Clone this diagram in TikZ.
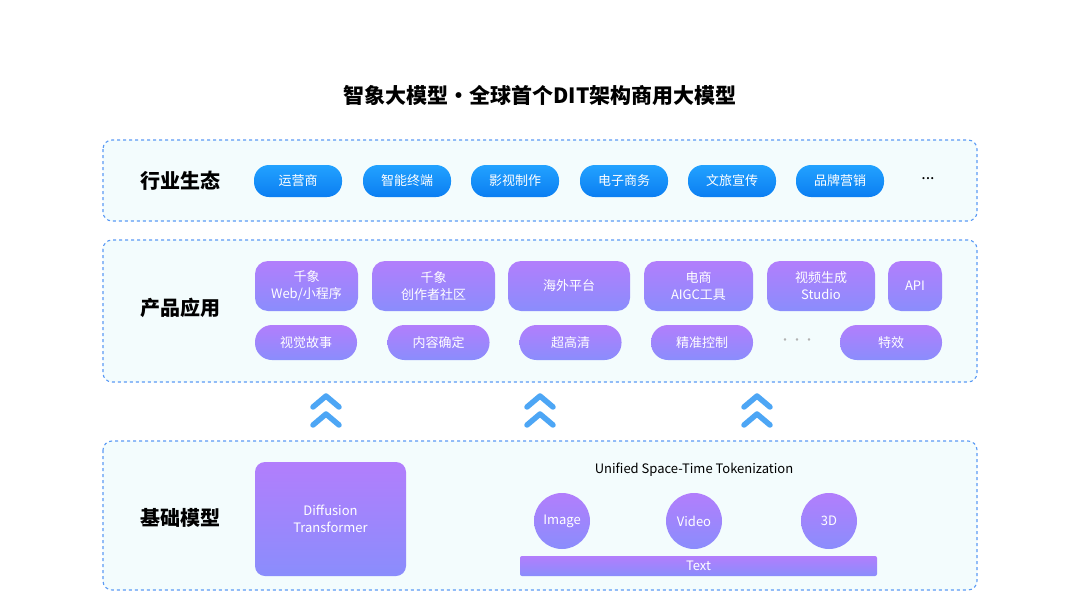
\documentclass[tikz,border=0pt]{standalone}
\usepackage{fontspec}
\setmainfont{Noto Sans CJK SC}
\usetikzlibrary{positioning,shapes.geometric}
\definecolor{layerline}{HTML}{5B9BF5}
\definecolor{layerfill}{HTML}{F3FCFD}
\definecolor{bluetop}{HTML}{22A2FF}
\definecolor{bluebot}{HTML}{0B7EF2}
\definecolor{purtop}{HTML}{B27EFC}
\definecolor{purbot}{HTML}{8A8DFC}
\definecolor{chev}{HTML}{4DA6F5}
\tikzset{
  layerbox/.style={draw=layerline, dashed, line width=1.1pt, fill=layerfill, rounded corners=9pt},
  layertitle/.style={font=\fontsize{20}{24}\selectfont\bfseries},
  blueitem/.style={rounded corners=15pt, top color=bluetop, bottom color=bluebot, draw=none,
    minimum width=88pt, minimum height=32pt, inner sep=0pt, text=white, font=\fontsize{13}{15}\selectfont},
  puritem/.style={rounded corners=13pt, top color=purtop, bottom color=purbot, draw=none,
    inner sep=0pt, text=white, align=center, font=\fontsize{13}{17}\selectfont},
  tallitem/.style={puritem, minimum height=50pt},
  pillitem/.style={puritem, rounded corners=17pt, minimum height=35pt, minimum width=102pt},
  chevron/.style={draw=chev, line width=5.5pt, line cap=round, line join=round},
  dots/.style={font=\fontsize{16}{16}\selectfont}
}
\begin{document}
\begin{tikzpicture}[x=1pt, y=-1pt]
	\useasboundingbox[fill=white] (0,0) rectangle (1080,608);
	
	% title
	\node[font=\fontsize{21}{24}\selectfont\bfseries] (title) at (540,95) {智象大模型·全球首个DIT架构商用大模型};
	
	% industry layer
	\draw[layerbox] (103,140) rectangle (977,221);
	\node[layertitle] (industry) at (180,181) {行业生态};
	\node[blueitem] (op) at (298,181) {运营商};
	\node[blueitem] (term) at (407,181) {智能终端};
	\node[blueitem] (film) at (515,181) {影视制作};
	\node[blueitem] (ecom) at (624,181) {电子商务};
	\node[blueitem] (tour) at (732,181) {文旅宣传};
	\node[blueitem] (brand) at (840,181) {品牌营销};
	\node[dots] (moreA) at (928,179) {...};
	
	% product layer
	\draw[layerbox] (103,240) rectangle (977,382);
	\node[layertitle] (product) at (180,308) {产品应用};
	\node[tallitem, minimum width=103pt] (web) at (306.5,286) {千象\\Web/小程序};
	\node[tallitem, minimum width=123pt] (creator) at (433.5,286) {千象\\创作者社区};
	\node[tallitem, minimum width=122pt] (oversea) at (569,286) {海外平台};
	\node[tallitem, minimum width=109pt] (aigc) at (698.5,286) {电商\\AIGC工具};
	\node[tallitem, minimum width=108pt] (studio) at (821,286) {视频生成\\Studio};
	\node[tallitem, minimum width=54pt] (api) at (915,286) {API};
	\node[pillitem] (story) at (306,342.5) {视觉故事};
	\node[pillitem] (content) at (438.5,342.5) {内容确定};
	\node[pillitem] (hd) at (570.5,342.5) {超高清};
	\node[pillitem] (precise) at (702,342.5) {精准控制};
	\node[font=\fontsize{12}{12}\selectfont, text=gray!60] (moreB) at (797,342) {···};
	\node[pillitem] (effect) at (891,342.5) {特效};
	
	% arrows up
	\foreach \cx in {326,540,757} {
		\draw[chevron] (\cx-13,407) -- (\cx,396) -- (\cx+13,407);
		\draw[chevron] (\cx-13,425) -- (\cx,414) -- (\cx+13,425);
	}
	
	% base layer
	\draw[layerbox] (103,441) rectangle (977,590);
	\node[layertitle] (base) at (180,518) {基础模型};
	\node[puritem, rounded corners=10pt, minimum width=151pt, minimum height=114pt] (dit) at (330.5,519) {Diffusion\\Transformer};
	\node[font=\fontsize{13}{15}\selectfont] (token) at (694,470) {Unified Space-Time Tokenization};
	\node[ellipse, top color=purtop, bottom color=purbot, minimum width=56pt, minimum height=56pt,
		inner sep=0pt, text=white, font=\fontsize{13}{15}\selectfont] (image) at (562,521) {Image};
	\node[ellipse, top color=purtop, bottom color=purbot, minimum width=56pt, minimum height=56pt,
		inner sep=0pt, text=white, font=\fontsize{13}{15}\selectfont] (video) at (694,521) {Video};
	\node[ellipse, top color=purtop, bottom color=purbot, minimum width=56pt, minimum height=56pt,
		inner sep=0pt, text=white, font=\fontsize{13}{15}\selectfont] (threed) at (829,521) {3D};
	\node[puritem, rounded corners=2pt, minimum width=357pt, minimum height=20pt] (text) at (698.5,566) {Text};
\end{tikzpicture}
\end{document}
